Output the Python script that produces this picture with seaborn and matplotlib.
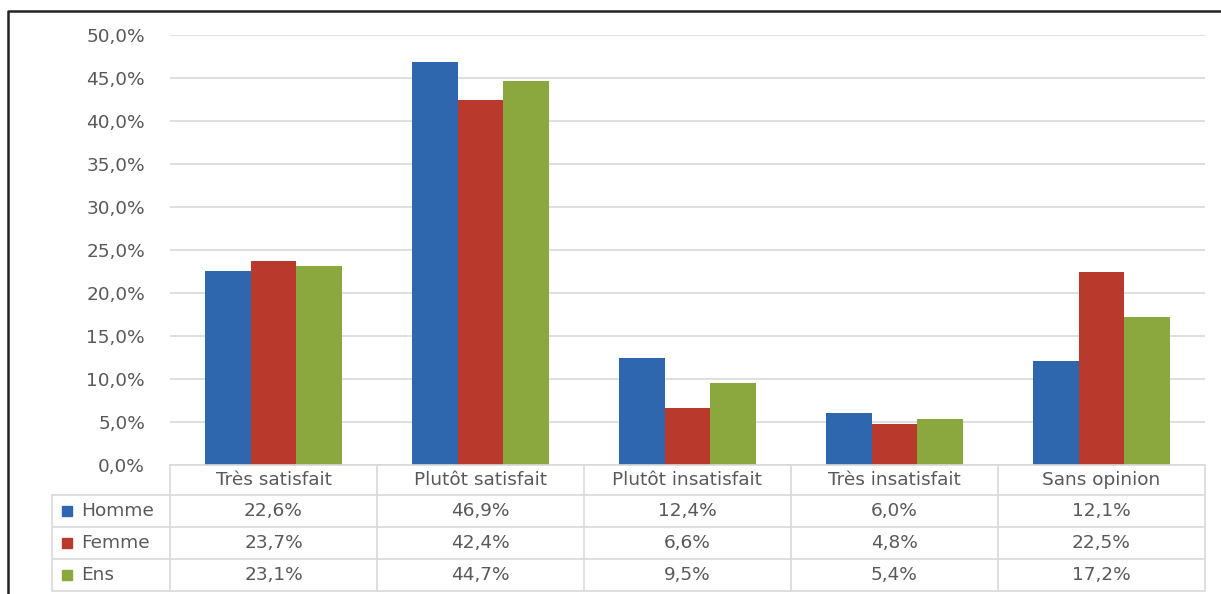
import matplotlib
matplotlib.use("Agg")
import matplotlib.pyplot as plt
import numpy as np
import pandas as pd
import seaborn as sns
from matplotlib.lines import Line2D

# Survey results: satisfaction by gender
categories = ["Très satisfait", "Plutôt satisfait", "Plutôt insatisfait",
              "Très insatisfait", "Sans opinion"]
series = ["Homme", "Femme", "Ens"]
homme = [22.6, 46.9, 12.4, 6.0, 12.1]
femme = [23.7, 42.4, 6.6, 4.8, 22.5]
ens = [23.1, 44.7, 9.5, 5.4, 17.2]
yticks = [0, 5, 10, 15, 20, 25, 30, 35, 40, 45, 50]
colors = ["#2E67AE", "#B9392D", "#8AA83E"]

values = {"Homme": homme, "Femme": femme, "Ens": ens}
df = pd.DataFrame(
    [(c, s, values[s][i]) for s in series for i, c in enumerate(categories)],
    columns=["categorie", "serie", "valeur"],
)

def fr(v, dec=1):
    return f"{v:.{dec}f}%".replace(".", ",")

sns.set_theme(style="white")
plt.rcParams["font.family"] = ["DejaVu Sans"]

W, H = 1221, 594
TXT = "#595959"
GRID = "#D9D9D9"
FS = 13.3

fig = plt.figure(figsize=(W / 100, H / 100), dpi=100)
fig.patch.set_facecolor("white")
ax = fig.add_axes([170 / W, 1 - 465 / H, (1205 - 170) / W, (465 - 35) / H])

sns.barplot(data=df, x="categorie", y="valeur", hue="serie", order=categories,
            hue_order=series, palette=colors, width=0.66, gap=0,
            saturation=1, legend=False, errorbar=None, linewidth=0, ax=ax)

ax.set_xlim(-0.5, len(categories) - 0.5)
ax.set_ylim(0, 50)
ax.set_yticks(yticks)
ax.set_yticklabels([fr(v) for v in yticks])
ax.set_xticks([])
ax.set_xlabel("")
ax.set_ylabel("")
ax.yaxis.grid(True, color=GRID, lw=1.2)
ax.set_axisbelow(True)
for s in ax.spines.values():
    s.set_visible(False)
ax.tick_params(axis="y", length=0, pad=18, labelsize=FS, labelcolor=TXT)

# Data table under the plot, in figure coordinates
def fx(x):
    return x / W

def fy(y):
    return 1 - y / H

def data_to_figx(xd):
    disp = ax.transData.transform((xd, 0))
    return fig.transFigure.inverted().transform(disp)[0]

bounds = [data_to_figx(i - 0.5) for i in range(len(categories) + 1)]
centers = [data_to_figx(i) for i in range(len(categories))]
left_edge = fx(52)
row_tops = [465, 495, 527, 559, 591]

def hline(x0, x1, y):
    fig.add_artist(Line2D([x0, x1], [fy(y), fy(y)], color=GRID, lw=1.2,
                          transform=fig.transFigure))

def vline(x, y0, y1):
    fig.add_artist(Line2D([x, x], [fy(y0), fy(y1)], color=GRID, lw=1.2,
                          transform=fig.transFigure))

hline(bounds[0], bounds[-1], row_tops[0])
for y in row_tops[1:]:
    hline(left_edge, bounds[-1], y)
for b in bounds:
    vline(b, row_tops[0], row_tops[-1])
vline(left_edge, row_tops[1], row_tops[-1])

# Header row with category names
hy = (row_tops[0] + row_tops[1]) / 2
for c, cx in zip(categories, centers):
    fig.text(cx, fy(hy), c, ha="center", va="center", fontsize=FS, color=TXT)

# Series rows with legend keys and values
for r, (s, col) in enumerate(zip(series, colors)):
    ry = (row_tops[r + 1] + row_tops[r + 2]) / 2
    fig.add_artist(plt.Rectangle((fx(62), fy(ry + 5)), 10 / W, 10 / H,
                                 color=col, transform=fig.transFigure))
    fig.text(fx(81), fy(ry), s, ha="left", va="center", fontsize=FS, color=TXT)
    for v, cx in zip(values[s], centers):
        fig.text(cx, fy(ry), fr(v), ha="center", va="center",
                 fontsize=FS, color=TXT)

# Outer frame (top and left edges)
fig.add_artist(Line2D([fx(8), fx(8), 1.0], [0.0, fy(11), fy(11)],
                      color="#222222", lw=1.8, transform=fig.transFigure))

fig.savefig("out.png", dpi=100)
